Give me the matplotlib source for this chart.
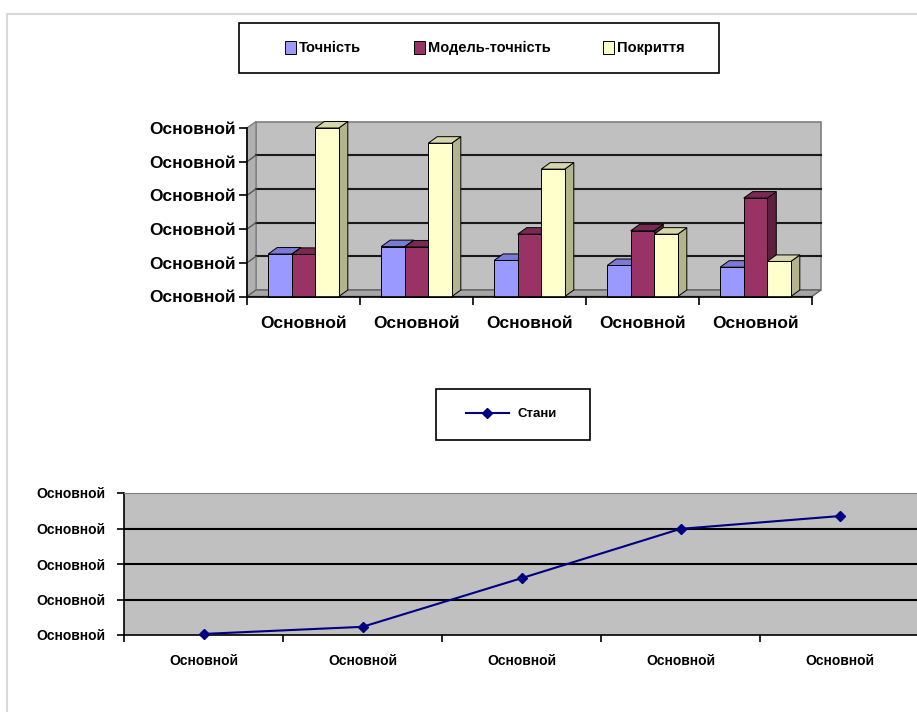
import matplotlib.pyplot as plt
from matplotlib.patches import Polygon, Rectangle, Patch
from matplotlib.lines import Line2D
import numpy as np

plt.rcParams["font.family"] = ["Liberation Sans", "DejaVu Sans"]

# data (axis labels are all the same broken "Основной")
cat_labels = ["Основной"] * 5
ytick_labels_top = ["Основной"] * 6
ytick_labels_bottom = ["Основной"] * 5
series_names = ["Точність", "Модель-точність", "Покриття"]
tochnist = [1.26, 1.48, 1.07, 0.92, 0.87]
model_tochnist = [1.25, 1.47, 1.85, 1.95, 2.92]
pokryttia = [5.0, 4.55, 3.78, 1.85, 1.04]
stany = [0.03, 0.23, 1.60, 2.99, 3.35]

front = ["#9999FF", "#993366", "#FFFFCC"]
top_c = ["#7B7BD6", "#7A2952", "#D6D6AA"]
side_c = ["#6666B8", "#5E1F40", "#B3B38C"]

W, H = 917, 712
fig = plt.figure(figsize=(W / 100, H / 100), dpi=100)


def fx(px):
    return px / W


def fy(py):
    return 1 - py / H


# light page frame
fig.patches.append(Rectangle((fx(7), fy(760)), fx(960), fy(14) - fy(760),
                             transform=fig.transFigure, fill=False,
                             edgecolor="#D9D9D9", lw=1.5))

# ---------- top chart: 3d clustered columns ----------
ax1 = fig.add_axes([fx(247), fy(296.5), fx(812) - fx(247), fy(128) - fy(296.5)])
ax1.set_xlim(0, 5)
ax1.set_ylim(0, 5)
ax1.set_facecolor("none")
dx = 9 / 113.0
dy = 6.5 / 33.7

ax1.add_patch(Rectangle((dx, dy), 5, 5, facecolor="#C0C0C0", edgecolor="#808080",
                        lw=1.2, clip_on=False, zorder=0))
ax1.add_patch(Polygon([(0, 0), (dx, dy), (dx, 5 + dy), (0, 5)], closed=True,
                      facecolor="#B0B0B0", edgecolor="#808080", lw=1,
                      clip_on=False, zorder=0.5))
ax1.add_patch(Polygon([(0, 0), (5, 0), (5 + dx, dy), (dx, dy)], closed=True,
                      facecolor="#A6A6A6", edgecolor="#606060", lw=1,
                      clip_on=False, zorder=0.5))
for k in range(1, 5):
    ax1.plot([dx, 5 + dx], [k + dy, k + dy], color="#1a1a1a", lw=1.5,
             clip_on=False, zorder=1)
    ax1.plot([0, dx], [k, k + dy], color="#555555", lw=1, clip_on=False, zorder=1)

bw = 0.625 / 3
all_series = [tochnist, model_tochnist, pokryttia]
z = 2
for i in range(5):
    for j, vals in enumerate(all_series):
        x0 = i + 0.1875 + j * bw
        h = vals[i]
        ax1.add_patch(Polygon([(x0 + bw, 0), (x0 + bw + dx, dy), (x0 + bw + dx, h + dy), (x0 + bw, h)],
                              closed=True, facecolor=side_c[j], edgecolor="black",
                              lw=0.7, clip_on=False, zorder=z))
        ax1.add_patch(Polygon([(x0, h), (x0 + bw, h), (x0 + bw + dx, h + dy), (x0 + dx, h + dy)],
                              closed=True, facecolor=top_c[j], edgecolor="black",
                              lw=0.7, clip_on=False, zorder=z))
        ax1.bar(x0, h, width=bw, align="edge", color=front[j], edgecolor="black",
                lw=0.7, clip_on=False, zorder=z + 0.5)
        z += 1

for s in ["top", "right"]:
    ax1.spines[s].set_visible(False)
for s in ["left", "bottom"]:
    ax1.spines[s].set_color("black")
    ax1.spines[s].set_linewidth(1.2)
    ax1.spines[s].set_zorder(100)
ax1.set_yticks(range(6))
ax1.set_yticklabels(ytick_labels_top, fontsize=12.5, fontweight="bold")
ax1.set_xticks(range(6))
ax1.set_xticklabels([])
ax1.set_xticks(np.arange(5) + 0.5, minor=True)
ax1.set_xticklabels(cat_labels, minor=True, fontsize=12.5, fontweight="bold")
ax1.tick_params(axis="x", which="minor", length=0, pad=14)
ax1.tick_params(axis="both", which="major", length=6, width=1.2, direction="out")
ax1.tick_params(axis="y", pad=2)

leg_box = Rectangle((fx(239), fy(73)), fx(719) - fx(239), fy(23) - fy(73),
                    transform=fig.transFigure, fill=False, edgecolor="black", lw=1.2)
fig.patches.append(leg_box)
handles = [Patch(facecolor=c, edgecolor="black", lw=0.7) for c in front]
leg1 = fig.legend(handles, series_names, loc="center", bbox_to_anchor=(fx(485), fy(48)),
                  ncol=3, frameon=False, handlelength=0.75, handleheight=1.0,
                  handletextpad=0.2, columnspacing=3.6,
                  prop={"size": 10.5, "weight": "bold"})

# ---------- bottom chart: line ----------
ax2 = fig.add_axes([fx(124), fy(635), fx(919) - fx(124), fy(493) - fy(635)])
ax2.set_facecolor("#C0C0C0")
ax2.set_xlim(0, 5)
ax2.set_ylim(0, 4)
for k in range(1, 4):
    ax2.axhline(k, color="black", lw=1.5, zorder=1)
ax2.plot(np.arange(5) + 0.5, stany, color="#000080", lw=1.5, marker="D",
         markersize=5, zorder=3, clip_on=False, label="Стани")
ax2.spines["top"].set_color("#808080")
ax2.spines["right"].set_visible(False)
ax2.spines["left"].set_linewidth(1.2)
ax2.spines["bottom"].set_linewidth(1.2)
ax2.set_yticks(range(5))
ax2.set_yticklabels(ytick_labels_bottom, fontsize=10, fontweight="bold")
ax2.set_xticks(range(6))
ax2.set_xticklabels([])
ax2.set_xticks(np.arange(5) + 0.5, minor=True)
ax2.set_xticklabels(cat_labels, minor=True, fontsize=10, fontweight="bold")
ax2.tick_params(axis="x", which="minor", length=0, pad=14)
ax2.tick_params(axis="both", which="major", length=5, width=1.2, direction="out")
ax2.tick_params(axis="y", pad=8)

fig.patches.append(Rectangle((fx(436), fy(440)), fx(590) - fx(436), fy(389) - fy(440),
                             transform=fig.transFigure, fill=False, edgecolor="black", lw=1.2))
line_handle = Line2D([], [], color="#000080", lw=1.5, marker="D", markersize=5)
fig.legend([line_handle], ["Стани"], loc="center", bbox_to_anchor=(fx(511), fy(414)),
           frameon=False, handlelength=3.3, handletextpad=0.6,
           prop={"size": 9.5, "weight": "bold"})

fig.savefig("out.png", dpi=100, facecolor="white")
